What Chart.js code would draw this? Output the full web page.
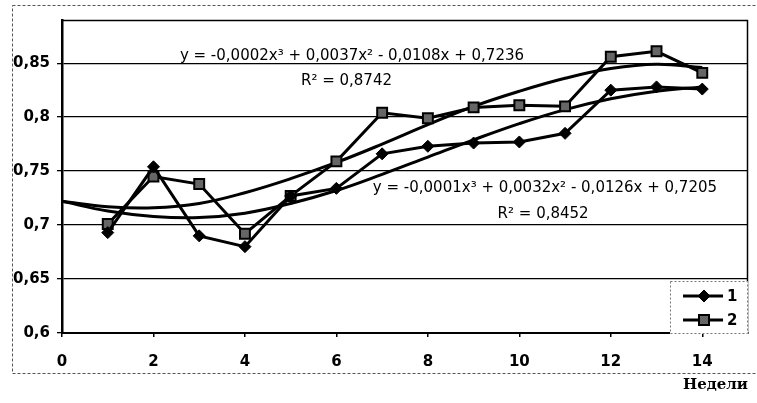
<!DOCTYPE html>
<html><head><meta charset="utf-8">
<script src="https://cdn.jsdelivr.net/npm/chart.js@4"></script>
<style>html,body{margin:0;padding:0;background:#fff}</style>
</head><body>
<canvas id="c" width="757" height="403"></canvas>
<script>
// ---- data ----
const weeks = [1,2,3,4,5,6,7,8,9,10,11,12,13,14];
const series1 = [0.693,0.754,0.690,0.680,0.727,0.734,0.766,0.773,0.776,0.777,0.785,0.825,0.828,0.826];
const series2 = [0.701,0.745,0.738,0.692,0.727,0.759,0.804,0.799,0.809,0.811,0.810,0.856,0.861,0.841];
const trendWeeks = [0,1,2,3,4,5,6,7,8,9,10,11,12,13,14];
const trend1 = [0.722,0.713,0.708,0.707,0.711,0.720,0.732,0.747,0.763,0.779,0.794,0.807,0.817,0.824,0.828];
const trend2 = [0.722,0.717,0.716,0.720,0.730,0.743,0.758,0.775,0.793,0.810,0.824,0.836,0.845,0.849,0.846];
const xTicks = [0,2,4,6,8,10,12,14];
const yTicks = [0.6,0.65,0.7,0.75,0.8,0.85];
const seriesLabels = ['1','2'];
const eq2Text = 'y = -0,0002x³ + 0,0037x² - 0,0108x + 0,7236';
const r2Text2 = 'R² = 0,8742';
const eq1Text = 'y = -0,0001x³ + 0,0032x² - 0,0126x + 0,7205';
const r2Text1 = 'R² = 0,8452';
const xTitle = 'Недели';

const pts = (xs, ys) => xs.map((x,i)=>({x:x, y:ys[i]}));

const decor = {
  id:'decor',
  beforeDraw(chart){
    const ctx = chart.ctx;
    ctx.save();
    ctx.fillStyle='#fff';
    ctx.fillRect(0,0,chart.width,chart.height);
    ctx.strokeStyle='#555';
    ctx.lineWidth=1;
    ctx.setLineDash([3,2]);
    ctx.strokeRect(12.5,5.5,760,368);
    ctx.restore();
  },
  afterDraw(chart){
    const ctx = chart.ctx, ca = chart.chartArea;
    const xs = chart.scales.x, ys = chart.scales.y;
    ctx.save();
    ctx.strokeStyle='#000'; ctx.lineWidth=1.5;
    ctx.beginPath();
    ctx.moveTo(ca.left, ca.top+0.5); ctx.lineTo(ca.right-0.5, ca.top+0.5); ctx.lineTo(ca.right-0.5, ca.bottom);
    ctx.stroke();
    ctx.fillStyle='#000';
    ctx.font='15px "DejaVu Sans"';
    ctx.textAlign='center'; ctx.textBaseline='middle';
    const t = (s, xv, yv) => ctx.fillText(s, xs.getPixelForValue(xv), ys.getPixelForValue(yv));
    t(eq2Text, 6.34, 0.8565);
    t(r2Text2, 6.22, 0.8335);
    t(eq1Text, 10.56, 0.7338);
    t(r2Text1, 10.52, 0.7106);
    const lw=78, lh=53, lx=ca.right-lw, ly=ca.bottom+1-lh;
    ctx.fillStyle='#fff'; ctx.fillRect(lx,ly,lw,lh);
    ctx.setLineDash([2,2]); ctx.strokeStyle='#777'; ctx.lineWidth=1;
    ctx.strokeRect(lx+0.5,ly+0.5,lw-1,lh-1);
    ctx.setLineDash([]);
    const rows=[ly+15, ly+39];
    chart.data.datasets.slice(0,2).forEach((ds,i)=>{
      const y=rows[i];
      ctx.strokeStyle='#000'; ctx.lineWidth=3;
      ctx.beginPath(); ctx.moveTo(lx+13,y); ctx.lineTo(lx+53,y); ctx.stroke();
      const cx=lx+34;
      ctx.fillStyle = ds.pointBackgroundColor; ctx.strokeStyle='#000'; ctx.lineWidth=ds.pointBorderWidth;
      ctx.beginPath();
      if(ds.pointStyle==='rectRot'){
        ctx.moveTo(cx,y-6);ctx.lineTo(cx+6,y);ctx.lineTo(cx,y+6);ctx.lineTo(cx-6,y);ctx.closePath();
      } else { ctx.rect(cx-5,y-5,10,10); }
      ctx.fill(); ctx.stroke();
      ctx.fillStyle='#000'; ctx.font='bold 15px "DejaVu Sans"'; ctx.textAlign='left';
      ctx.fillText(ds.label, lx+57, y+1);
    });
    ctx.restore();
  }
};

new Chart(document.getElementById('c'), {
  type:'line',
  data:{datasets:[
    {label:seriesLabels[0], data:pts(weeks,series1), borderColor:'#000', borderWidth:3, pointStyle:'rectRot', pointRadius:6, pointBackgroundColor:'#000', pointBorderColor:'#000', pointBorderWidth:1, tension:0},
    {label:seriesLabels[1], data:pts(weeks,series2), borderColor:'#000', borderWidth:3, pointStyle:'rect', pointRadius:7, pointBackgroundColor:'#666', pointBorderColor:'#000', pointBorderWidth:2, tension:0},
    {label:'trend1', data:pts(trendWeeks,trend1), borderColor:'#000', borderWidth:3, pointRadius:0, tension:0.4},
    {label:'trend2', data:pts(trendWeeks,trend2), borderColor:'#000', borderWidth:3, pointRadius:0, tension:0.4}
  ]},
  options:{
    responsive:false, animation:false, devicePixelRatio:1,
    layout:{padding:{left:6, top:20, right:-2, bottom:9}},
    plugins:{legend:{display:false}, tooltip:{enabled:false}},
    scales:{
      x:{type:'linear', min:0, max:15,
        afterBuildTicks:s=>{s.ticks=xTicks.map(v=>({value:v}));},
        grid:{drawOnChartArea:false, drawTicks:true, tickLength:4, color:'#000', lineWidth:1.5},
        border:{color:'#000', width:2},
        ticks:{color:'#000', font:{family:'DejaVu Sans', weight:'bold', size:15}, padding:16, maxRotation:0, autoSkip:false},
        title:{display:true, text:xTitle, align:'end', color:'#000', font:{family:'DejaVu Serif', weight:'bold', size:15}, padding:{top:-11,bottom:0}}
      },
      y:{min:0.6, max:0.89,
        afterBuildTicks:s=>{s.ticks=yTicks.map(v=>({value:v}));},
        grid:{color:'#000', lineWidth:1.3, drawTicks:true, tickLength:5},
        border:{color:'#000', width:2.5},
        ticks:{color:'#000', font:{family:'DejaVu Sans', weight:'bold', size:15}, padding:7,
          callback:v=>String(Math.round(v*100)/100).replace('.',',')}
      }
    }
  },
  plugins:[decor]
});
</script>
</body></html>
